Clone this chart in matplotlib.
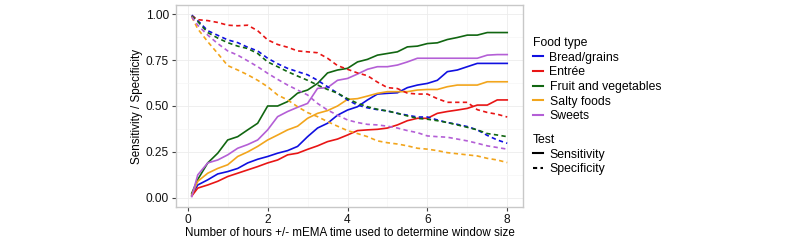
import numpy as np
import matplotlib.pyplot as plt
from matplotlib.lines import Line2D
from matplotlib.ticker import MultipleLocator

plt.rcParams['font.family'] = ['Liberation Sans', 'DejaVu Sans']

# --- datos ---
hours = [0.1, 0.25, 0.5, 0.75, 1.0, 1.25, 1.5, 1.75, 2.0, 2.25, 2.5, 2.75, 3.0,
         3.25, 3.5, 3.75, 4.0, 4.25, 4.5, 4.75, 5.0, 5.25, 5.5, 5.75, 6.0,
         6.25, 6.5, 6.75, 7.0, 7.25, 7.5, 7.75, 8.0]

food_types = ['Bread/grains', 'Entrée', 'Fruit and vegetables', 'Salty foods', 'Sweets']
food_colors = ['#1010e0', '#e81515', '#116611', '#f2a51c', '#b45fd6']

# sensibilidad
sens_bread = [0.016, 0.07, 0.098, 0.13, 0.143, 0.16, 0.19, 0.21, 0.225, 0.243, 0.257,
              0.28, 0.333, 0.38, 0.406, 0.45, 0.478, 0.496, 0.533, 0.565, 0.569,
              0.572, 0.60, 0.614, 0.623, 0.64, 0.687, 0.696, 0.714, 0.732, 0.732,
              0.732, 0.732]
sens_entree = [0.01, 0.053, 0.07, 0.09, 0.116, 0.134, 0.152, 0.17, 0.19, 0.206, 0.234,
               0.243, 0.264, 0.283, 0.306, 0.32, 0.342, 0.366, 0.37, 0.373, 0.38,
               0.397, 0.42, 0.433, 0.433, 0.46, 0.47, 0.478, 0.487, 0.505, 0.505,
               0.533, 0.533]
sens_fruit = [0.025, 0.10, 0.19, 0.243, 0.315, 0.333, 0.37, 0.406, 0.50, 0.50, 0.524,
              0.57, 0.587, 0.623, 0.68, 0.696, 0.705, 0.74, 0.754, 0.777, 0.786,
              0.795, 0.822, 0.826, 0.84, 0.844, 0.862, 0.873, 0.886, 0.886, 0.90,
              0.90, 0.90]
sens_salty = [0.016, 0.09, 0.134, 0.16, 0.18, 0.225, 0.25, 0.28, 0.315, 0.342, 0.37,
              0.39, 0.433, 0.46, 0.475, 0.50, 0.536, 0.54, 0.554, 0.569, 0.578,
              0.578, 0.578, 0.587, 0.59, 0.59, 0.605, 0.614, 0.614, 0.614, 0.632,
              0.632, 0.632]
sens_sweets = [0.007, 0.125, 0.19, 0.206, 0.234, 0.27, 0.29, 0.315, 0.37, 0.442, 0.47,
               0.493, 0.514, 0.596, 0.60, 0.64, 0.65, 0.674, 0.70, 0.714, 0.714,
               0.723, 0.74, 0.76, 0.76, 0.76, 0.76, 0.76, 0.76, 0.76, 0.777, 0.78,
               0.78]

# especificidad
spec_bread = [0.995, 0.965, 0.91, 0.885, 0.86, 0.845, 0.82, 0.80, 0.76, 0.73, 0.705,
              0.687, 0.67, 0.64, 0.605, 0.57, 0.533, 0.505, 0.49, 0.48, 0.473, 0.46,
              0.45, 0.44, 0.44, 0.424, 0.41, 0.40, 0.388, 0.37, 0.34, 0.315, 0.297]
spec_entree = [0.99, 0.97, 0.965, 0.955, 0.94, 0.937, 0.94, 0.91, 0.86, 0.835, 0.82,
               0.80, 0.795, 0.79, 0.76, 0.72, 0.70, 0.68, 0.665, 0.63, 0.60, 0.595,
               0.57, 0.565, 0.565, 0.54, 0.52, 0.52, 0.52, 0.48, 0.465, 0.455, 0.44]
spec_fruit = [0.99, 0.96, 0.90, 0.87, 0.845, 0.826, 0.813, 0.786, 0.74, 0.714, 0.687,
              0.663, 0.64, 0.614, 0.59, 0.57, 0.54, 0.515, 0.496, 0.482, 0.473, 0.46,
              0.446, 0.433, 0.428, 0.42, 0.41, 0.397, 0.384, 0.37, 0.35, 0.342, 0.333]
spec_salty = [0.985, 0.92, 0.85, 0.786, 0.72, 0.696, 0.67, 0.64, 0.605, 0.56, 0.533,
              0.496, 0.464, 0.442, 0.415, 0.39, 0.366, 0.35, 0.333, 0.31, 0.30, 0.293,
              0.283, 0.27, 0.265, 0.257, 0.246, 0.24, 0.234, 0.228, 0.215, 0.206, 0.192]
spec_sweets = [0.985, 0.94, 0.886, 0.84, 0.80, 0.777, 0.746, 0.714, 0.678, 0.645, 0.614,
               0.587, 0.56, 0.514, 0.478, 0.45, 0.424, 0.41, 0.40, 0.397, 0.39, 0.38,
               0.366, 0.355, 0.337, 0.333, 0.33, 0.32, 0.31, 0.297, 0.283, 0.274, 0.265]

sens = [sens_bread, sens_entree, sens_fruit, sens_salty, sens_sweets]
spec = [spec_bread, spec_entree, spec_fruit, spec_salty, spec_sweets]

DASH = (0, (2.6, 2.0))
LW = 1.2

# --- grafico ---
fig = plt.figure(figsize=(8, 2.4), dpi=100)
ax = fig.add_axes([176 / 800, 33 / 240, 347 / 800, 202 / 240])

for s, c in zip(sens, food_colors):
    ax.plot(hours, s, color=c, lw=LW)
for s, c in zip(spec, food_colors):
    ax.plot(hours, s, color=c, lw=LW, ls=DASH)

span = 8 - 0.1
ax.set_xlim(0.1 - 0.05 * span, 8 + 0.05 * span)
ax.set_ylim(-0.05, 1.05)
ax.xaxis.set_major_locator(MultipleLocator(2))
ax.xaxis.set_minor_locator(MultipleLocator(1))
ax.yaxis.set_major_locator(MultipleLocator(0.25))
ax.yaxis.set_minor_locator(MultipleLocator(0.125))
ax.yaxis.set_major_formatter(plt.FormatStrFormatter('%.2f'))
ax.grid(True, which='major', color='#ececec', lw=0.6)
ax.grid(True, which='minor', color='#f6f6f6', lw=0.5)
ax.set_axisbelow(True)
for sp in ax.spines.values():
    sp.set_color('#c8c8c8')
    sp.set_linewidth(1.0)
ax.tick_params(which='major', length=3, color='#444444', labelsize=8.6,
               labelcolor='#111111', pad=2)
ax.tick_params(which='minor', length=0)

ax.set_xlabel('Number of hours +/- mEMA time used to determine window size',
              fontsize=8.4, labelpad=1)
ax.set_ylabel('Sensitivity / Specificity', fontsize=8.4, labelpad=2)

# leyendas
legend_kw = dict(loc='upper left', frameon=False, fontsize=8.8, title_fontsize=8.8,
                 handlelength=0.8, handletextpad=0.55, labelspacing=0.22,
                 borderaxespad=0, borderpad=0)

food_handles = [Line2D([], [], color=c, lw=1.5) for c in food_colors]
leg1 = fig.legend(food_handles, food_types, title='Food type',
                  bbox_to_anchor=(533 / 800, 1 - 37 / 240), **legend_kw)
leg1._legend_box.align = 'left'

test_handles = [Line2D([], [], color='black', lw=1.5),
                Line2D([], [], color='black', lw=1.5, ls=(0, (2.0, 1.6)))]
leg2 = fig.legend(test_handles, ['Sensitivity', 'Specificity'], title='Test',
                  bbox_to_anchor=(533 / 800, 1 - 134 / 240), **legend_kw)
leg2._legend_box.align = 'left'

fig.savefig('out.png', dpi=100)
